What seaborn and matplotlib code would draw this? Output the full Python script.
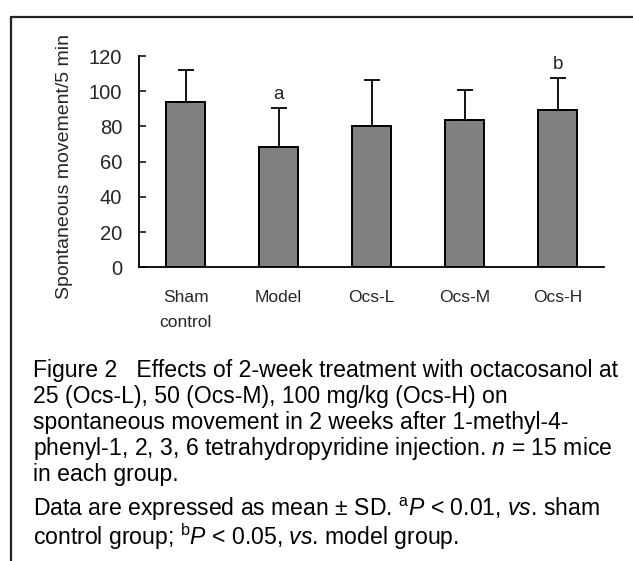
import matplotlib
matplotlib.use("Agg")
import matplotlib.pyplot as plt
import seaborn as sns
import pandas as pd
from matplotlib.lines import Line2D

# 数据
groups = ['Sham\ncontrol', 'Model', 'Ocs-L', 'Ocs-M', 'Ocs-H']
means = [93.8, 68.6, 80.1, 83.5, 89.2]
sds = [18.4, 21.8, 26.3, 17.4, 18.4]
marks = ['', 'a', '', '', 'b']
yticks = [0, 20, 40, 60, 80, 100, 120]

caption = [
    "Figure 2   Effects of 2-week treatment with octacosanol at",
    "25 (Ocs-L), 50 (Ocs-M), 100 mg/kg (Ocs-H) on",
    "spontaneous movement in 2 weeks after 1-methyl-4-",
    r"phenyl-1, 2, 3, 6 tetrahydropyridine injection. $\mathit{n}$ = 15 mice",
    "in each group.",
    r"Data are expressed as mean ± SD. $^{\mathrm{a}}\mathit{P}$ < 0.01, $\mathit{vs}$. sham",
    r"control group; $^{\mathrm{b}}\mathit{P}$ < 0.05, $\mathit{vs}$. model group.",
]
caption_y = [377, 403, 429, 455, 481, 516, 545]

sns.set_theme(style='white')
plt.rcParams['font.family'] = ['Liberation Sans', 'DejaVu Sans']
plt.rcParams['mathtext.fontset'] = 'custom'
plt.rcParams['mathtext.rm'] = 'Liberation Sans'
plt.rcParams['mathtext.it'] = 'Liberation Sans:italic'

df = pd.DataFrame({'group': groups, 'value': means})

W, H = 633, 561
fig = plt.figure(figsize=(W / 100, H / 100), dpi=100)
ax = fig.add_axes([139 / W, 1 - 267.3 / H, 465 / W, 211.3 / H])

sns.barplot(data=df, x='group', y='value', color='#808080', saturation=1,
            edgecolor='black', linewidth=1.4, width=0.41, errorbar=None, ax=ax)
# 只画上半部分误差线
ax.errorbar(range(len(means)), means, yerr=[[0] * len(sds), sds], fmt='none',
            ecolor='black', elinewidth=1.3, capsize=5.5, capthick=1.3)
for i, m in enumerate(marks):
    if m:
        ax.text(i, means[i] + sds[i] + 5, m, ha='center', va='baseline', fontsize=13.5)

ax.set_xlim(-0.5, len(groups) - 0.5)
ax.set_ylim(0, 120)
ax.set_yticks(yticks)
ax.set_xticks([i - 0.5 for i in range(len(groups) + 1)])
ax.set_xticklabels([])
ax.set_xticks(range(len(groups)), minor=True)
ax.set_xticklabels(groups, minor=True, fontsize=12.5, linespacing=1.85, va='top')
ax.tick_params(axis='x', which='major', direction='in', length=4, width=1.1, color='black')
ax.tick_params(axis='x', which='minor', length=0, pad=16)
ax.tick_params(axis='y', direction='in', length=5, width=1.1, color='black',
               labelsize=14.5, pad=12, left=True)
ax.set_xlabel('')
ax.set_ylabel('Spontaneous movement/5 min', fontsize=14)
ax.yaxis.set_label_coords(-0.142, 0.479)

sns.despine(ax=ax)
for s in ['left', 'bottom']:
    ax.spines[s].set_color('black')
    ax.spines[s].set_linewidth(1.3)

# 外框线
fig.add_artist(Line2D([10.5 / W, 1], [1 - 16.5 / H, 1 - 16.5 / H], color='#222222', lw=1.6))
fig.add_artist(Line2D([10.5 / W, 10.5 / W], [0, 1 - 16.5 / H], color='#222222', lw=1.6))

for line, y in zip(caption, caption_y):
    fig.text(33 / W, 1 - y / H, line, fontsize=16.6, ha='left', va='baseline', color='black')

fig.savefig('out.png', dpi=100)
